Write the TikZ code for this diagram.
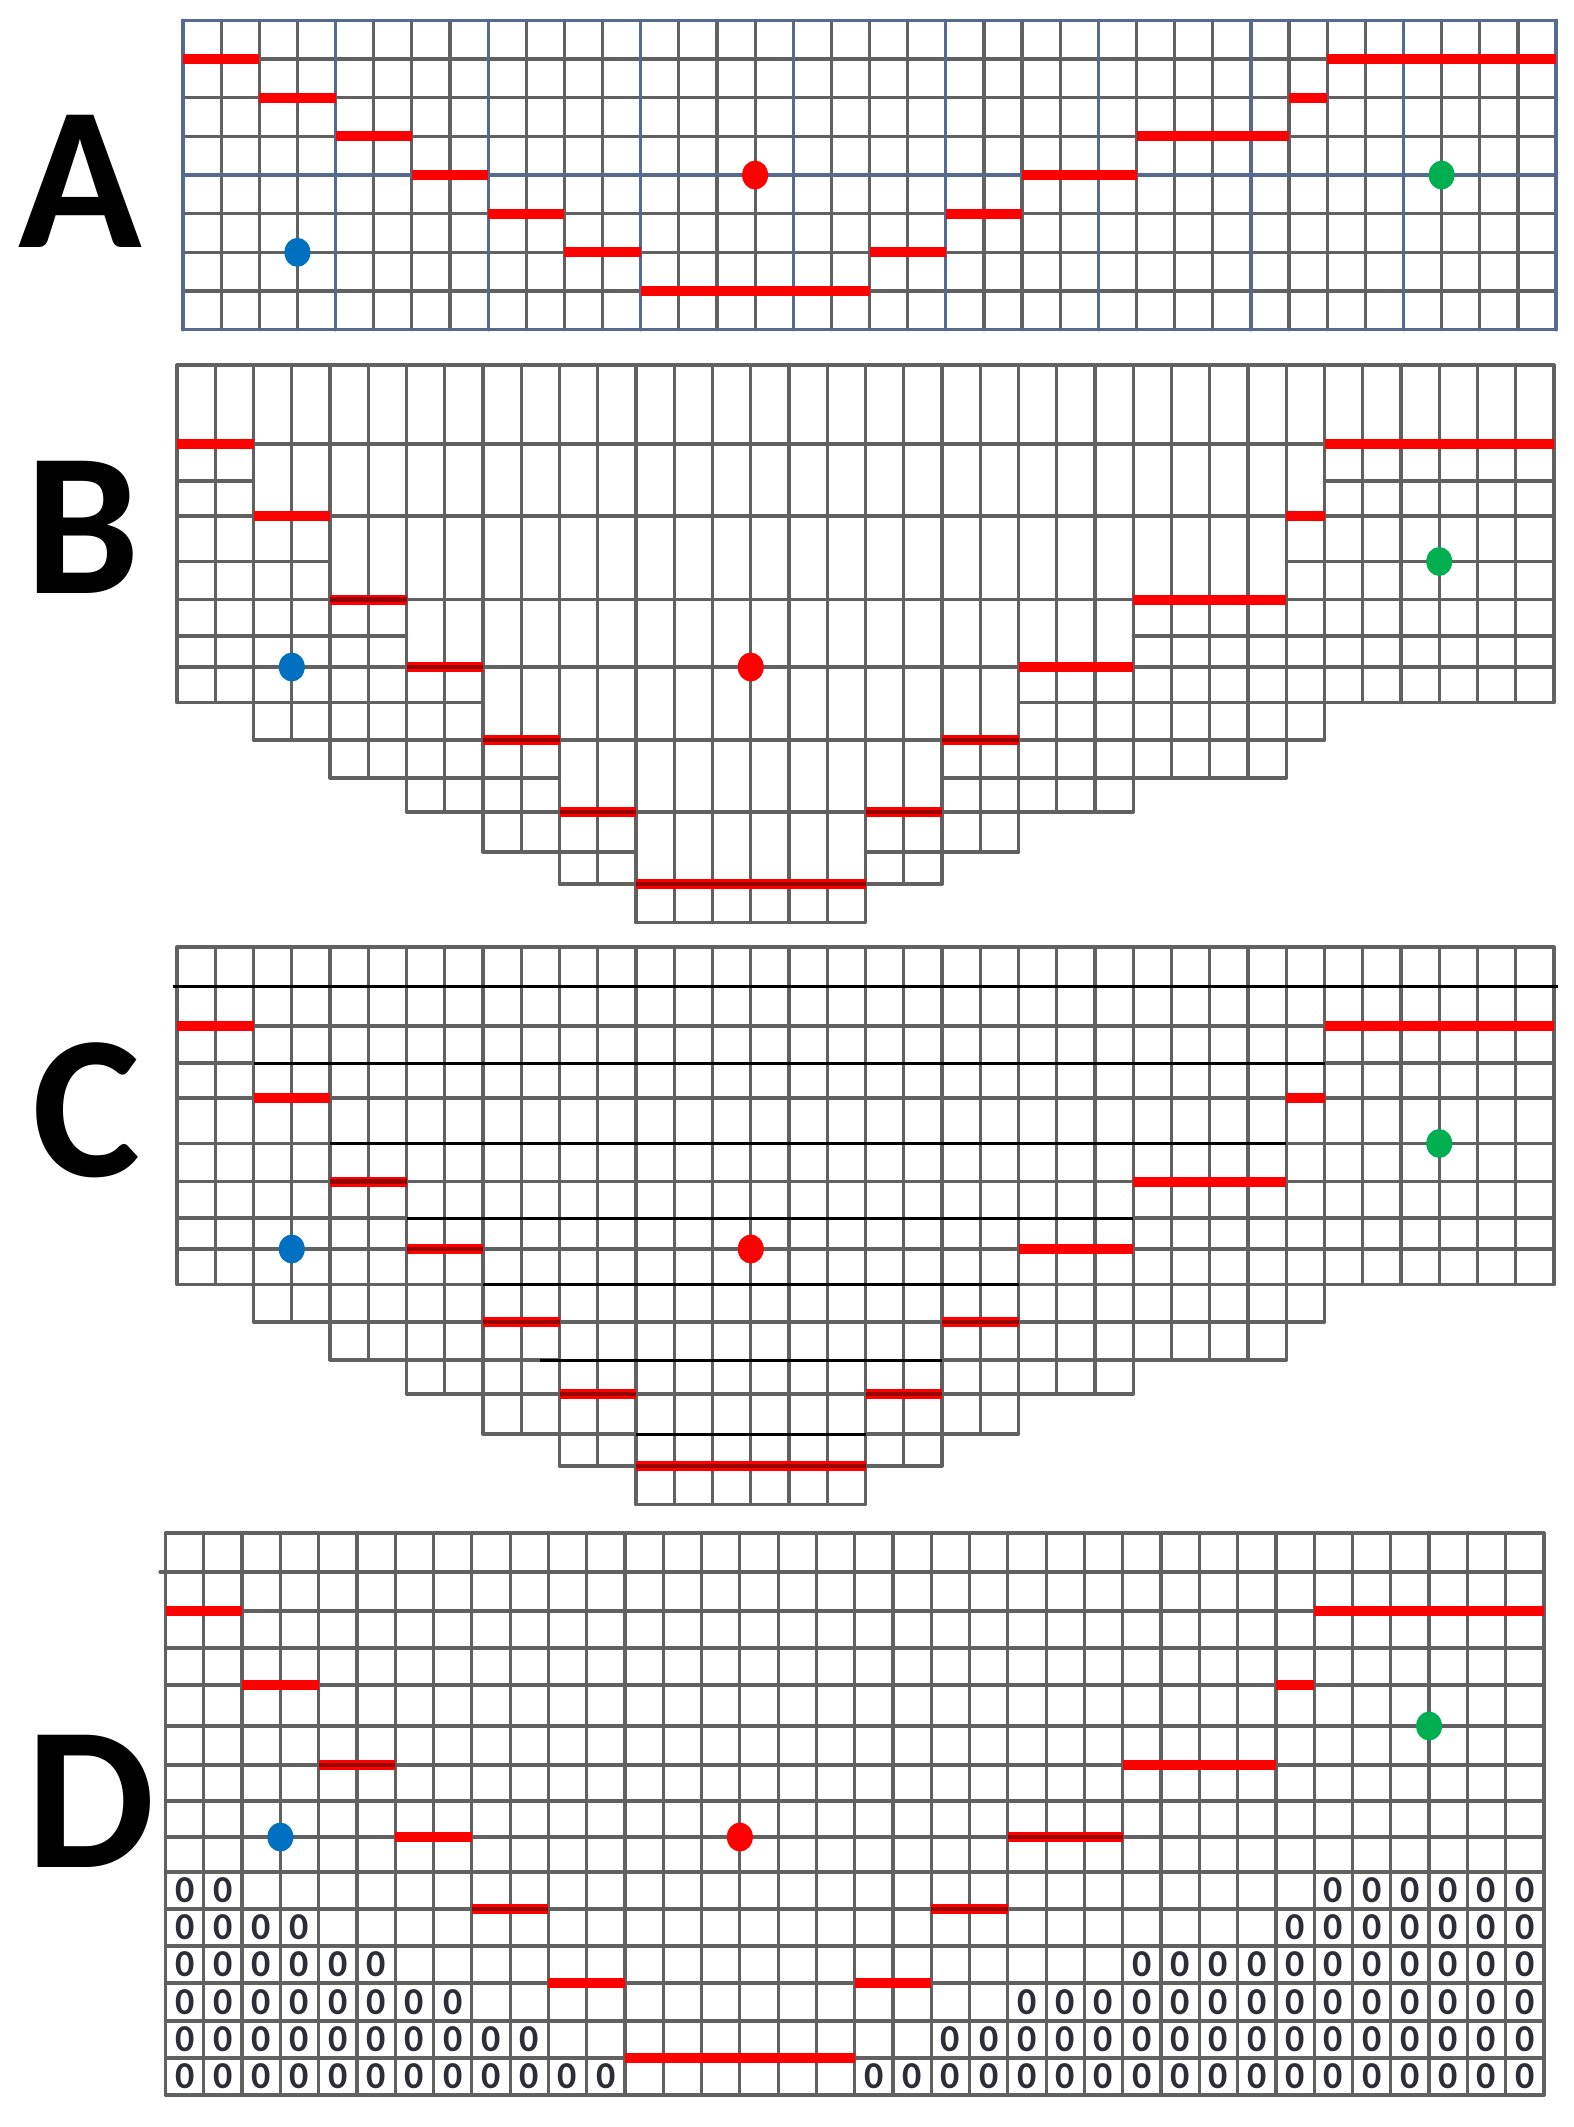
\documentclass[tikz,border=0pt]{standalone}
\usepackage{fontspec}
\newfontfamily\lblfont{Carlito}
\definecolor{gridc}{gray}{0.38}
\definecolor{bluegrid}{RGB}{85,105,145}
\definecolor{redc}{RGB}{255,0,0}
\definecolor{darkredc}{RGB}{150,0,0}
\definecolor{bluedot}{RGB}{0,112,192}
\definecolor{greendot}{RGB}{0,176,80}
\definecolor{zeroc}{RGB}{45,45,55}
\tikzset{
  gridline/.style={draw=gridc,line width=1.6pt,line cap=round},
  bgrid/.style={draw=bluegrid,line width=1.6pt,line cap=round},
  redseg/.style={draw=redc,line width=5pt},
  darkcore/.style={draw=darkredc,line width=2.2pt},
  blackline/.style={draw=black,line width=1.5pt},
  letter/.style={font=\lblfont\bfseries\fontsize{102}{102}\selectfont,inner sep=0pt,anchor=center},
  zero/.style={font=\lblfont\bfseries\fontsize{19}{19}\selectfont,text=zeroc,inner sep=0pt},
}
\def\hlev{{0,79,116,151,196.5,234.5,271,302,337.5,375,413,447,487,519,557.5}}
\def\dlev{{1533,1572,1611,1648,1685,1726,1765,1801,1837,1872,1909,1946,1983,2021,2058,2095}}
\newcommand\drawBC[1]{%
  % verticals
  \foreach \c/\bt in {0/8,1/8,2/9,3/9,4/10,5/10,6/11,7/11,8/12,9/12,10/13,11/13,12/14,13/14,14/14,15/14,16/14,17/14,18/14,19/13,20/13,21/12,22/12,23/11,24/11,25/11,26/10,27/10,28/10,29/10,30/9,31/8,32/8,33/8,34/8,35/8,36/8}{%
    \pgfmathsetmacro\yb{#1+\hlev[\bt]}
    \draw[gridline] ({177+38.25*\c},#1) -- ({177+38.25*\c},\yb);
  }
  % horizontals
  \foreach \l/\a/\b in {0/0/36,1/0/36,2/0/2,2/30/36,3/0/36,4/0/4,4/29/36,5/0/36,6/0/6,6/25/36,7/0/36,8/0/8,8/22/36,9/2/30,10/4/10,10/20/29,11/6/25,12/8/12,12/18/22,13/10/20,14/12/18}{%
    \pgfmathsetmacro\yy{#1+\hlev[\l]}
    \draw[gridline] ({177+38.25*\a},\yy) -- ({177+38.25*\b},\yy);
  }
}
\newcommand\redBC[1]{%
  \foreach \l/\a/\b/\dk in {1/0/2/0,3/2/4/0,5/4/6/1,7/6/8/1,9/8/10/1,11/10/12/1,13/12/18/1,11/18/20/1,9/20/22/1,7/22/25/0,5/25/29/0,3/29/30/0,1/30/36/0}{%
    \pgfmathsetmacro\yy{#1+\hlev[\l]}
    \draw[redseg] ({177+38.25*\a},\yy) -- ({177+38.25*\b},\yy);
    \ifnum\dk=1 \draw[darkcore] ({177+38.25*\a},\yy) -- ({177+38.25*\b},\yy);\fi
  }
  \pgfmathsetmacro\ys{#1+\hlev[7]}
  \pgfmathsetmacro\yg{#1+\hlev[4]}
  \fill[bluedot] ({177+38.25*3},\ys) ellipse (13 and 14.5);
  \fill[redc] ({177+38.25*15},\ys) ellipse (13 and 14.5);
  \fill[greendot] ({177+38.25*33},\yg) ellipse (13 and 14.5);
}
\begin{document}
\begin{tikzpicture}[x=0.5pt,y=-0.5pt]
\useasboundingbox (0,0) rectangle (1574,2127);
\fill[white] (0,0) rectangle (1574,2127);

% ---------------- Panel A ----------------
\foreach \c in {0,...,36}{\draw[gridline] ({183+38.14*\c},20.4) -- ({183+38.14*\c},329.7);}
\foreach \r in {0,...,8}{\draw[gridline] (183,{20.4+38.66*\r}) -- (1556,{20.4+38.66*\r});}
\foreach \c in {0,4,...,36}{\draw[bgrid] ({183+38.14*\c},20.4) -- ({183+38.14*\c},329.7);}
\foreach \r in {0,4,8}{\draw[bgrid] (183,{20.4+38.66*\r}) -- (1556,{20.4+38.66*\r});}
\foreach \l/\a/\b in {1/0/2,2/2/4,3/4/6,4/6/8,5/8/10,6/10/12,7/12/18,6/18/20,5/20/22,4/22/25,3/25/29,2/29/30,1/30/36}{%
  \draw[redseg] ({183+38.14*\a},{20.4+38.66*\l}) -- ({183+38.14*\b},{20.4+38.66*\l});
}
\fill[bluedot] ({183+38.14*3},{20.4+38.66*6}) ellipse (13 and 14.5);
\fill[redc] ({183+38.14*15},{20.4+38.66*4}) ellipse (13 and 14.5);
\fill[greendot] ({183+38.14*33},{20.4+38.66*4}) ellipse (13 and 14.5);

% ---------------- Panel B ----------------
\drawBC{365}
\redBC{365}

% ---------------- Panel C ----------------
\drawBC{947}
\foreach \l/\a/\b in {2/2/30,4/4/29,6/6/25,8/8/22,10/9.5/20,12/12/18}{%
  \pgfmathsetmacro\yy{947+\hlev[\l]}
  \draw[blackline] ({177+38.25*\a},\yy) -- ({177+38.25*\b},\yy);
}
\draw[blackline] (173,986) -- (1558,986);
\redBC{947}

% ---------------- Panel D ----------------
\foreach \c in {0,...,36}{\draw[gridline] ({165.5+38.29*\c},1533) -- ({165.5+38.29*\c},2095);}
\foreach \r in {0,...,15}{\pgfmathsetmacro\yy{\dlev[\r]}\draw[gridline] (165.5,\yy) -- (1544,\yy);}
\draw[gridline] (160,1572) -- (165.5,1572);
\foreach \l/\a/\b/\dk in {2/0/2/0,4/2/4/0,6/4/6/1,8/6/8/0,10/8/10/1,12/10/12/0,14/12/18/0,12/18/20/0,10/20/22/1,8/22/25/1,6/25/29/0,4/29/30/0,2/30/36/0}{%
  \pgfmathsetmacro\yy{\dlev[\l]}
  \draw[redseg] ({165.5+38.29*\a},\yy) -- ({165.5+38.29*\b},\yy);
  \ifnum\dk=1 \draw[darkcore] ({165.5+38.29*\a},\yy) -- ({165.5+38.29*\b},\yy);\fi
}
\pgfmathsetmacro\ys{\dlev[8]}
\pgfmathsetmacro\yg{\dlev[5]}
\fill[bluedot] ({165.5+38.29*3},\ys) ellipse (13 and 14.5);
\fill[redc] ({165.5+38.29*15},\ys) ellipse (13 and 14.5);
\fill[greendot] ({165.5+38.29*33},\yg) ellipse (13 and 14.5);
\foreach \r/\rn/\lo/\ro in {9/10/1/30,10/11/3/29,11/12/5/25,12/13/7/22,13/14/9/20,14/15/11/18}{%
  \pgfmathsetmacro\ya{\dlev[\r]}
  \pgfmathsetmacro\yb{\dlev[\rn]}
  \pgfmathsetmacro\yz{(\ya+\yb)/2}
  \foreach \c in {0,...,\lo}{\node[zero] (zl-\r-\c) at ({165.5+38.29*(\c+0.5)},\yz) {0};}
  \foreach \c in {\ro,...,35}{\node[zero] (zr-\r-\c) at ({165.5+38.29*(\c+0.5)},\yz) {0};}
}

% ---------------- Labels ----------------
\node[letter] (lblA) at (80,181) {A};
\node[letter] (lblB) at (83,527) {B};
\node[letter] (lblC) at (86,1110) {C};
\node[letter] (lblD) at (91,1801) {D};
\end{tikzpicture}
\end{document}
